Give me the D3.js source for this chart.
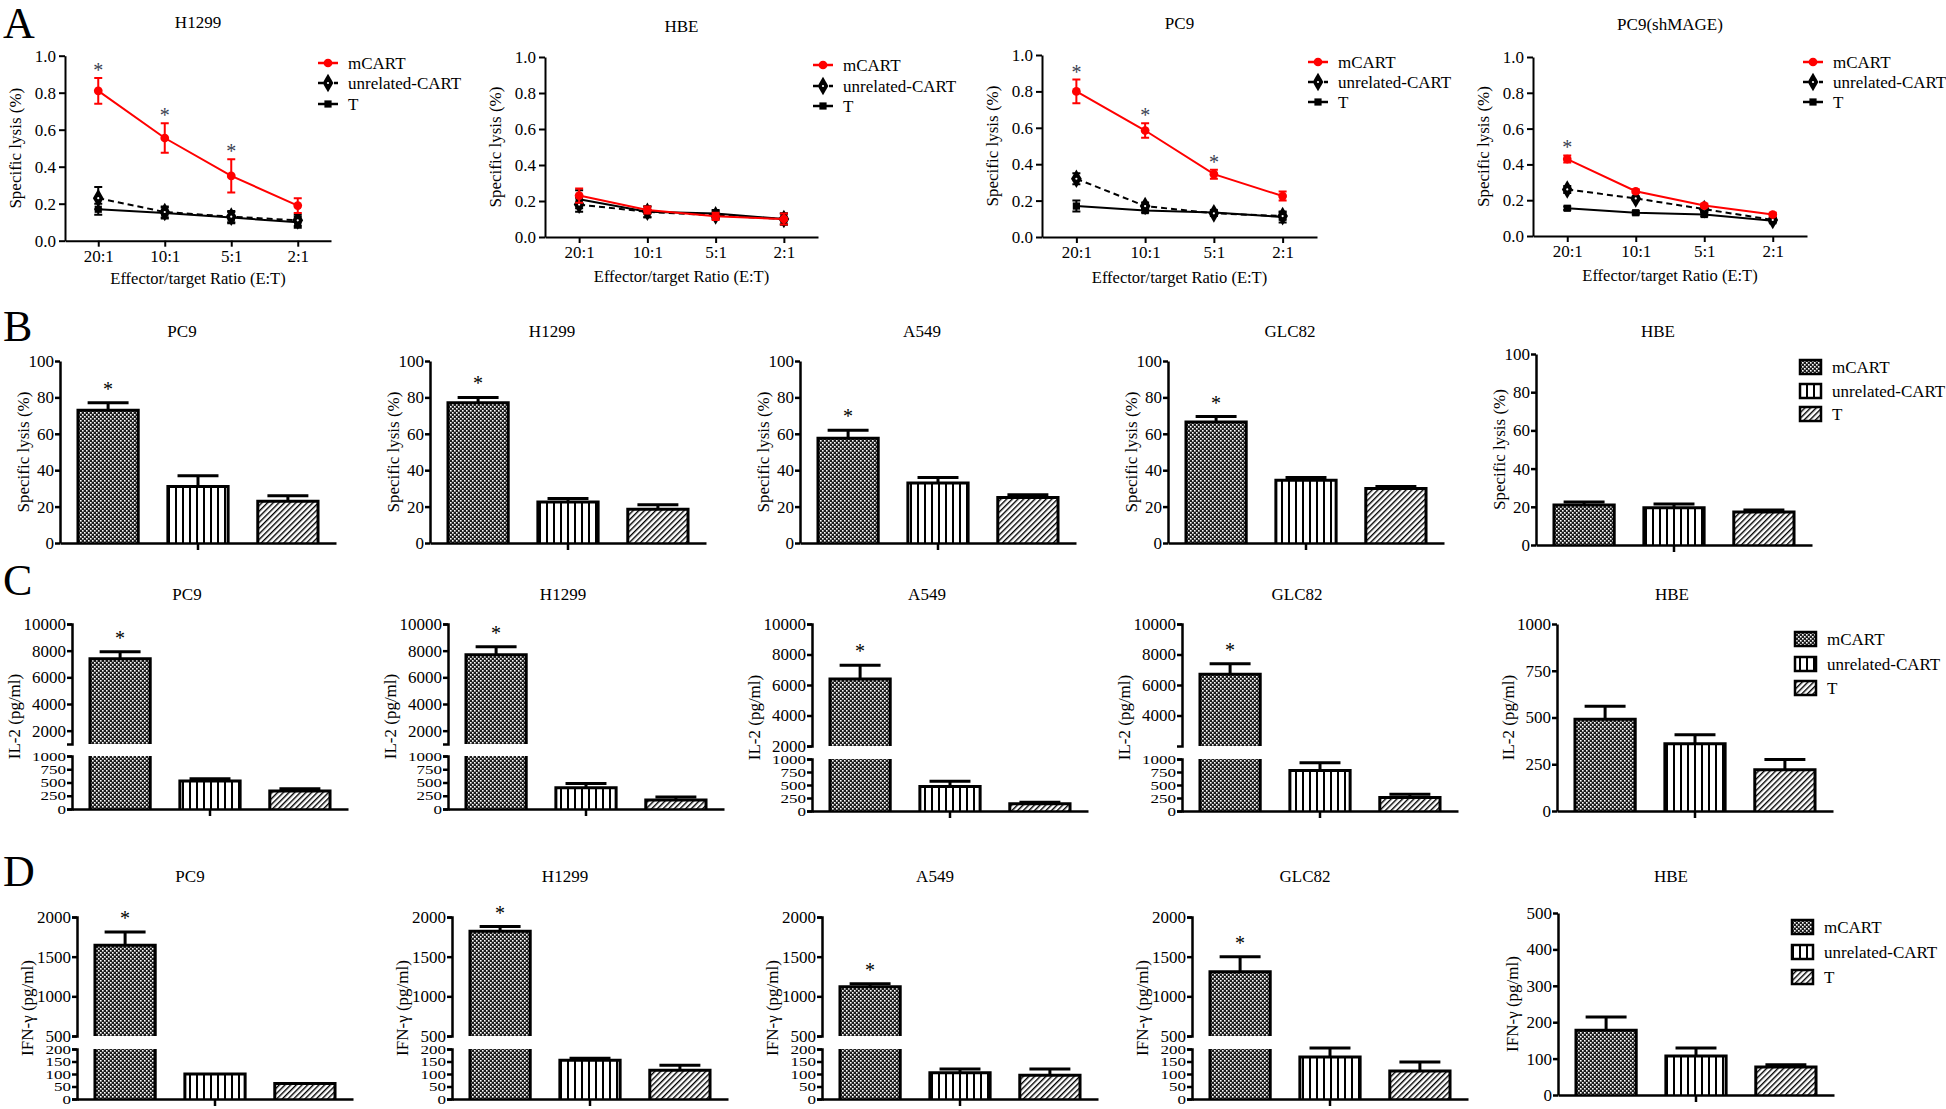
<!DOCTYPE html>
<html><head><meta charset="utf-8">
<script src="https://cdn.jsdelivr.net/npm/d3@7"></script>
<style>body{margin:0;background:#fff}</style>
</head><body><svg id="c" width="1946" height="1109"></svg>
<script>
// ---------------- DATA ----------------
const ratios = ["20:1","10:1","5:1","2:1"];
const lysisTitles = ["H1299","HBE","PC9","PC9(shMAGE)"];
const lysisTicks = [0,0.2,0.4,0.6,0.8,1.0];
const seriesNames = ["mCART","unrelated-CART","T"];
const lysisMCART    = [[0.81,0.555,0.35,0.19],[0.23,0.15,0.115,0.10],[0.80,0.585,0.345,0.225],[0.43,0.25,0.17,0.12]];
const lysisMCARTErr = [[0.07,0.08,0.09,0.04],[0.04,0.02,0.02,0.03],[0.065,0.04,0.025,0.025],[0.02,0.01,0.01,0.01]];
const lysisUnrel    = [[0.23,0.155,0.13,0.11],[0.18,0.14,0.12,0.10],[0.32,0.17,0.13,0.115],[0.26,0.21,0.15,0.09]];
const lysisUnrelErr = [[0.06,0.03,0.03,0.03],[0.04,0.03,0.02,0.03],[0.03,0.02,0.015,0.02],[0.02,0.01,0.015,0.01]];
const lysisT        = [[0.17,0.15,0.125,0.10],[0.21,0.14,0.13,0.10],[0.17,0.145,0.135,0.11],[0.155,0.13,0.12,0.085]];
const lysisTErr     = [[0.03,0.03,0.03,0.03],[0.05,0.03,0.02,0.03],[0.03,0.01,0.01,0.03],[0.01,0.01,0.01,0.01]];
const lysisStars    = [[1,1,1,0],[0,0,0,0],[1,1,1,0],[1,0,0,0]];

const cellLines = ["PC9","H1299","A549","GLC82","HBE"];
const groups = ["mCART","unrelated-CART","T"];
const lysisBar    = [[73,31,23],[77,22.5,18.5],[57.5,33,25],[66.5,34.5,30],[21,19.5,17.3]];
const lysisBarErr = [[4,6,3],[3,2,2.5],[4.5,3,1.5],[3,1.5,1],[1.5,2,1]];
const il2    = [[7400,530,340],[7700,400,170],[6400,470,140],[6700,780,260],[490,360,220]];
const il2Err = [[520,40,40],[600,80,55],[900,100,30],[700,150,60],[70,48,55]];
const ifng    = [[1645,100,62],[1820,155,115],[1120,105,95],[1310,168,112],[178,107,77]];
const ifngErr = [[165,0,0],[60,8,20],[40,15,25],[190,36,36],[36,22,6]];
const barStars = [1,1,1,1,0];
const lysisBarTicks = [0,20,40,60,80,100];
const il2UpperDomains = [[1000,10000],[1000,10000],[2000,10000],[2000,10000]];
const il2UpperTicks = [[2000,4000,6000,8000,10000],[2000,4000,6000,8000,10000],[2000,4000,6000,8000,10000],[4000,6000,8000,10000]];
const il2LowerTicks = [0,250,500,750,1000];
const il2HBETicks = [0,250,500,750,1000];
const ifngUpperTicks = [500,1000,1500,2000];
const ifngLowerTicks = [0,50,100,150,200];
const ifngHBETicks = [0,100,200,300,400,500];

// ---------------- SETUP ----------------
const FONT = '"Liberation Serif","Times New Roman",serif';
const svg = d3.select("#c");
svg.append("rect").attr("width",1946).attr("height",1109).attr("fill","#fff");
const defs = svg.append("defs");
const p1 = defs.append("pattern").attr("id","pChk").attr("patternUnits","userSpaceOnUse").attr("width",4).attr("height",4);
p1.append("rect").attr("width",4).attr("height",4).attr("fill","#1c1c1c");
p1.append("rect").attr("x",0).attr("y",0).attr("width",1.6).attr("height",1.6).attr("fill","#fff");
p1.append("rect").attr("x",2).attr("y",2).attr("width",1.6).attr("height",1.6).attr("fill","#fff");
const p2 = defs.append("pattern").attr("id","pVert").attr("patternUnits","userSpaceOnUse").attr("width",7).attr("height",7);
p2.append("rect").attr("width",7).attr("height",7).attr("fill","#fff");
p2.append("rect").attr("x",0).attr("width",2).attr("height",7).attr("fill","#000");
const p3 = defs.append("pattern").attr("id","pDiag").attr("patternUnits","userSpaceOnUse").attr("width",4).attr("height",4).attr("patternTransform","rotate(45)");
p3.append("rect").attr("width",4).attr("height",4).attr("fill","#fff");
p3.append("rect").attr("width",1.4).attr("height",4).attr("fill","#000");
const patIds = ["pChk","pVert","pDiag"];

function styleAxis(g, fs, sw) {
  g.attr("font-family", FONT);
  g.selectAll("path.domain").attr("stroke","#000").attr("stroke-width",sw);
  g.selectAll(".tick line").attr("stroke","#000").attr("stroke-width",sw);
  g.selectAll(".tick text").attr("fill","#000").attr("font-size",fs).attr("font-family",FONT);
}
function txt(x,y,s,fs,anchor){
  return svg.append("text").attr("x",x).attr("y",y).attr("font-family",FONT).attr("font-size",fs)
    .attr("text-anchor",anchor||"middle").attr("fill","#000").text(s);
}
function vlabel(x,y,s,fs){
  svg.append("text").attr("transform",`translate(${x},${y}) rotate(-90)`).attr("dy","0.35em")
    .attr("font-family",FONT).attr("font-size",fs).attr("text-anchor","middle").attr("fill","#000").text(s);
}

// Panel letters
txt(3,38,"A",44,"start");
txt(3,341,"B",44,"start");
txt(3,595,"C",44,"start");
txt(3,886,"D",44,"start");

// ---------------- ROW A : line charts ----------------
const linePanels = [
 {x0:65, x1:331, yt:55.7, yb:240.7, titleY:28, xlabY:284, lx:318, ly:[63,83,104]},
 {x0:545, x1:818, yt:57, yb:237, titleY:32, xlabY:282, lx:813, ly:[65,86,106]},
 {x0:1042, x1:1317, yt:55, yb:237, titleY:29, xlabY:283, lx:1308, ly:[62,82,102]},
 {x0:1533, x1:1807, yt:57, yb:236, titleY:30, xlabY:281, lx:1803, ly:[62,82,102]}
];
const seriesStyle = [
 {color:"#ff0000", dash:null, marker:d3.symbolCircle, size:60},
 {color:"#000", dash:"6,4", marker:d3.symbolDiamond, size:100},
 {color:"#000", dash:null, marker:d3.symbolSquare, size:52}
];
function drawMarker(g, si, cx, cy){
  const st = seriesStyle[si];
  g.append("path").attr("d", d3.symbol().type(st.marker).size(st.size)()).attr("transform",`translate(${cx},${cy})`).attr("fill",st.color);
  if (si===1) g.append("circle").attr("cx",cx).attr("cy",cy).attr("r",1.1).attr("fill","#fff");
}
linePanels.forEach((L,pi)=>{
  const g = svg.append("g");
  const x = d3.scalePoint().domain(ratios).range([L.x0, L.x1]).padding(0.5);
  const y = d3.scaleLinear().domain([0,1]).range([L.yb, L.yt]);
  const ya = g.append("g").attr("transform",`translate(${L.x0},0)`)
    .call(d3.axisLeft(y).tickValues(lysisTicks).tickFormat(d3.format(".1f")).tickSize(6).tickPadding(3).tickSizeOuter(0));
  styleAxis(ya,17,2);
  const xa = g.append("g").attr("transform",`translate(0,${L.yb})`)
    .call(d3.axisBottom(x).tickSize(6).tickPadding(3).tickSizeOuter(0));
  styleAxis(xa,17,2);
  txt((L.x0+L.x1)/2, L.titleY, lysisTitles[pi], 17);
  txt((L.x0+L.x1)/2, L.xlabY, "Effector/target Ratio (E:T)", 16.5);
  vlabel(L.x0-50, (L.yt+L.yb)/2, "Specific lysis (%)", 17);
  const series = [
    {v:lysisMCART[pi], e:lysisMCARTErr[pi]},
    {v:lysisUnrel[pi], e:lysisUnrelErr[pi]},
    {v:lysisT[pi], e:lysisTErr[pi]}
  ];
  [2,1,0].forEach(si=>{
    const st = seriesStyle[si], s = series[si];
    const line = d3.line().x((d,i)=>x(ratios[i])).y(d=>y(d));
    g.append("path").attr("d", line(s.v)).attr("fill","none").attr("stroke",st.color).attr("stroke-width",2)
      .attr("stroke-dasharray", st.dash);
    s.v.forEach((v,i)=>{
      const cx = x(ratios[i]), e = s.e[i];
      const y1 = y(v-e), y2 = y(v+e);
      g.append("path").attr("d",`M${cx},${y1}V${y2}M${cx-4},${y1}H${cx+4}M${cx-4},${y2}H${cx+4}`)
        .attr("stroke",st.color).attr("stroke-width",2).attr("fill","none");
      drawMarker(g, si, cx, y(v));
    });
  });
  lysisStars[pi].forEach((f,i)=>{
    if(!f) return;
    const top = y(lysisMCART[pi][i]+lysisMCARTErr[pi][i]);
    txt(x(ratios[i]), top-1, "*", 20).attr("fill","#3a4150");
  });
  // legend
  seriesNames.forEach((n,si)=>{
    const st = seriesStyle[si], yy = L.ly[si];
    g.append("line").attr("x1",L.lx).attr("x2",L.lx+20).attr("y1",yy).attr("y2",yy)
      .attr("stroke",st.color).attr("stroke-width",2.5).attr("stroke-dasharray", si===1?"5,3":null);
    drawMarker(g, si, L.lx+10, yy);
    txt(L.lx+30, yy+6, n, 17, "start");
  });
});

// ---------------- BAR PANELS ----------------
const BW = 276;
function barPanel(p){
  const g = svg.append("g");
  const x = d3.scaleBand().domain(groups).range([p.ax, p.ax+BW]).paddingInner(0.33).paddingOuter(0.2);
  const segs = p.segs.map(s=>Object.assign({}, s, {y: d3.scaleLinear().domain(s.dom).range(s.rng)}));
  const baseY = segs[0].rng[0];
  const topY = segs[segs.length-1].rng[1];
  const bw = x.bandwidth();
  groups.forEach((gn,i)=>{
    const v = p.vals[i], e = p.errs[i];
    const bx = x(gn);
    segs.forEach(s=>{
      if (v <= s.dom[0]) return;
      const top = Math.min(v, s.dom[1]);
      const yT = s.y(top), yB = s.y(s.dom[0]);
      g.append("rect").attr("x",bx).attr("y",yT).attr("width",bw).attr("height",yB-yT).attr("fill",`url(#${patIds[i]})`);
      let d = `M${bx},${yB}V${yT}`;
      d += (v <= s.dom[1]) ? `H${bx+bw}` : `M${bx+bw},${yT}`;
      d += `V${yB}`;
      g.append("path").attr("d",d).attr("fill","none").attr("stroke","#000").attr("stroke-width",3);
    });
    const s = segs.find(s=> v > s.dom[0] && v <= s.dom[1]) || segs[segs.length-1];
    const cx = bx + bw/2;
    let errTop = s.y(v);
    if (e > 0) {
      errTop = s.y(v+e);
      const hw = bw*0.34;
      g.append("path").attr("d",`M${cx},${s.y(v)}V${errTop}M${cx-hw},${errTop}H${cx+hw}`)
        .attr("stroke","#000").attr("stroke-width",3).attr("fill","none");
    }
    if (i===0 && p.star) txt(cx, errTop-7, "*", 20);
  });
  segs.forEach(s=>{
    const ax = d3.axisLeft(s.y).tickValues(s.ticks).tickFormat(d3.format("d")).tickSize(5).tickPadding(1)
      .tickSizeOuter(s.outer||0);
    const ag = g.append("g").attr("transform",`translate(${p.ax},0)`).call(ax);
    styleAxis(ag,17,2.5);
    if (s.squish) ag.selectAll(".tick text").attr("transform","scale(1,0.74)");
  });
  const xa = g.append("g").attr("transform",`translate(0,${baseY})`)
    .call(d3.axisBottom(x).tickValues([groups[1]]).tickFormat("").tickSize(7).tickSizeOuter(0));
  styleAxis(xa,17,2.5);
  txt(p.titleX, p.titleY, p.title, 17);
  vlabel(p.ax + p.ylabOff, (topY+baseY)/2, p.ylabel, 17);
  if (p.legend) {
    groups.forEach((gn,i)=>{
      const yy = p.legend.y[i];
      g.append("rect").attr("x",p.legend.x).attr("y",yy-7).attr("width",21).attr("height",14)
        .attr("fill",`url(#${patIds[i]})`).attr("stroke","#000").attr("stroke-width",2.5);
      txt(p.legend.x+32, yy+6, gn, 17, "start");
    });
  }
}

// Row B
const rowBAx = [60,430,800,1168,1536];
cellLines.forEach((c,ci)=>{
  const isH = ci===4;
  barPanel({
    ax: rowBAx[ci],
    segs: [{dom:[0,100], rng: isH?[545,354]:[543,361], ticks: lysisBarTicks}],
    vals: lysisBar[ci], errs: lysisBarErr[ci], star: barStars[ci],
    title: c, titleX: rowBAx[ci]+122, titleY: 337,
    ylabel: "Specific lysis (%)", ylabOff: -37,
    legend: isH ? {x:1800, y:[367,391,414]} : null
  });
});

// Row C
const rowCAx = [72,448,812,1182,1557];
cellLines.forEach((c,ci)=>{
  const isH = ci===4;
  let segs;
  if (isH) segs = [{dom:[0,1000], rng:[811,624], ticks: il2HBETicks}];
  else {
    const d2 = il2UpperDomains[ci][0]===2000;
    segs = [
      {dom:[0,1000], rng: d2?[811,759]:[809,756], ticks: il2LowerTicks, squish:true, outer:5},
      {dom: il2UpperDomains[ci], rng: d2?[746,624]:[744,624], ticks: il2UpperTicks[ci], outer:5}
    ];
  }
  barPanel({
    ax: rowCAx[ci], segs,
    vals: il2[ci], errs: il2Err[ci], star: barStars[ci],
    title: c, titleX: rowCAx[ci]+115, titleY: 600,
    ylabel: "IL-2 (pg/ml)", ylabOff: isH?-49:-58,
    legend: isH ? {x:1795, y:[639,664,688]} : null
  });
});

// Row D
const rowDAx = [77,452,822,1192,1558];
cellLines.forEach((c,ci)=>{
  const isH = ci===4;
  let segs;
  if (isH) segs = [{dom:[0,500], rng:[1095,913], ticks: ifngHBETicks}];
  else segs = [
    {dom:[0,200], rng:[1099,1049], ticks: ifngLowerTicks, squish:true, outer:5},
    {dom:[500,2000], rng:[1036,917], ticks: ifngUpperTicks, outer:5}
  ];
  barPanel({
    ax: rowDAx[ci], segs,
    vals: ifng[ci], errs: ifngErr[ci], star: barStars[ci],
    title: c, titleX: rowDAx[ci]+113, titleY: 882,
    ylabel: "IFN-γ (pg/ml)", ylabOff: isH?-46:-50,
    legend: isH ? {x:1792, y:[927,952,977]} : null
  });
});
</script></body></html>
